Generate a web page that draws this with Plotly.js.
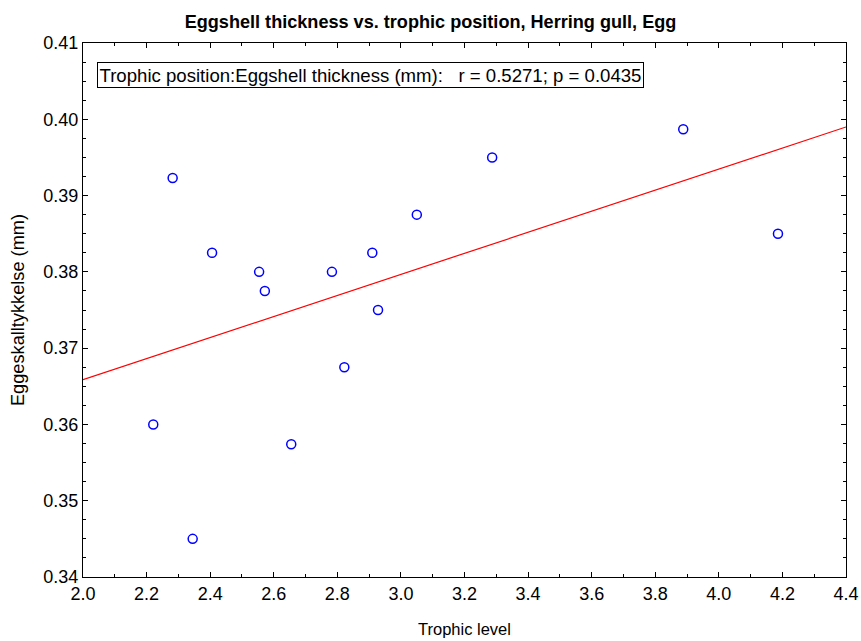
<!DOCTYPE html>
<html>
<head>
<meta charset="utf-8">
<script src="https://cdn.plot.ly/plotly-3.0.1.min.js"></script>
<style>html,body{margin:0;padding:0;background:#fff;}#chart{width:861px;height:641px;}</style>
</head>
<body>
<div id="chart"></div>
<script>
// Trophic level (x) and eggshell thickness in mm (y)
const trophicLevel = [2.282, 2.406, 2.554, 2.572, 2.783, 2.910, 2.928, 2.822, 3.050, 3.287, 3.888, 4.186, 2.221, 2.345, 2.655];
const eggshellThickness = [0.3923, 0.3825, 0.3800, 0.3775, 0.3800, 0.3825, 0.3750, 0.3675, 0.3875, 0.3950, 0.3987, 0.3850, 0.3600, 0.3450, 0.3574];
const xRange = [2.0, 4.4];
const yRange = [0.34, 0.41];
const statsText = "Trophic position:Eggshell thickness (mm):   r = 0.5271; p = 0.0435";

// least-squares fit from the data
const n = trophicLevel.length;
const mx = trophicLevel.reduce((a, b) => a + b, 0) / n;
const my = eggshellThickness.reduce((a, b) => a + b, 0) / n;
let sxy = 0, sxx = 0;
for (let i = 0; i < n; i++) {
  sxy += (trophicLevel[i] - mx) * (eggshellThickness[i] - my);
  sxx += (trophicLevel[i] - mx) ** 2;
}
const slope = sxy / sxx;
const intercept = my - slope * mx;
const fitX = xRange.slice();
const fitY = fitX.map(x => intercept + slope * x);

const font = "Liberation Sans, Arial, sans-serif";

const traces = [
  {
    x: fitX, y: fitY, mode: "lines", type: "scatter",
    line: {color: "#ff0000", width: 1.2},
    hoverinfo: "skip", showlegend: false
  },
  {
    x: trophicLevel, y: eggshellThickness, mode: "markers", type: "scatter",
    marker: {symbol: "circle-open", size: 9, color: "#0000ff", line: {width: 1.5, color: "#0000ff"}},
    showlegend: false
  }
];

const layout = {
  width: 861, height: 641,
  margin: {l: 83, r: 15, t: 43, b: 64},
  paper_bgcolor: "#ffffff", plot_bgcolor: "#ffffff",
  font: {family: font, color: "#000"},
  title: {text: "<b>Eggshell thickness vs. trophic position, Herring gull, Egg</b>",
          font: {family: font, size: 18.1, color: "#000"}, x: 0.5, xanchor: "center", y: 0.966, yanchor: "middle"},
  xaxis: {
    range: xRange, dtick: 0.2, tick0: 2.0, tickformat: ".1f",
    ticks: "inside", ticklen: 5, tickwidth: 1, tickcolor: "#000",
    minor: {ticks: "inside", dtick: 0.1, ticklen: 3, tickcolor: "#000", showgrid: false},
    showline: true, linecolor: "#000", linewidth: 1, mirror: "allticks",
    showgrid: false, zeroline: false,
    tickfont: {family: font, size: 18, color: "#000"},
    title: {text: "Trophic level", font: {family: font, size: 16.5, color: "#000"}, standoff: 20}
  },
  yaxis: {
    range: yRange, dtick: 0.01, tick0: 0.34, tickformat: ".2f",
    ticks: "inside", ticklen: 5, tickwidth: 1, tickcolor: "#000",
    minor: {ticks: "inside", dtick: 0.0025, ticklen: 3, tickcolor: "#000", showgrid: false},
    showline: true, linecolor: "#000", linewidth: 1, mirror: "allticks",
    showgrid: false, zeroline: false,
    tickfont: {family: font, size: 18, color: "#000"},
    title: {text: "Eggeskalltykkelse (mm)", font: {family: font, size: 18.2, color: "#000"}, standoff: 13}
  },
  annotations: [{
    text: statsText, xref: "paper", yref: "paper", x: 0.0185, y: 0.964,
    xanchor: "left", yanchor: "top", showarrow: false,
    font: {family: font, size: 18.6, color: "#000"},
    bgcolor: "#ffffff", bordercolor: "#000", borderwidth: 1, borderpad: 1.5
  }]
};

Plotly.newPlot("chart", traces, layout, {displayModeBar: false, staticPlot: true});
</script>
</body>
</html>
